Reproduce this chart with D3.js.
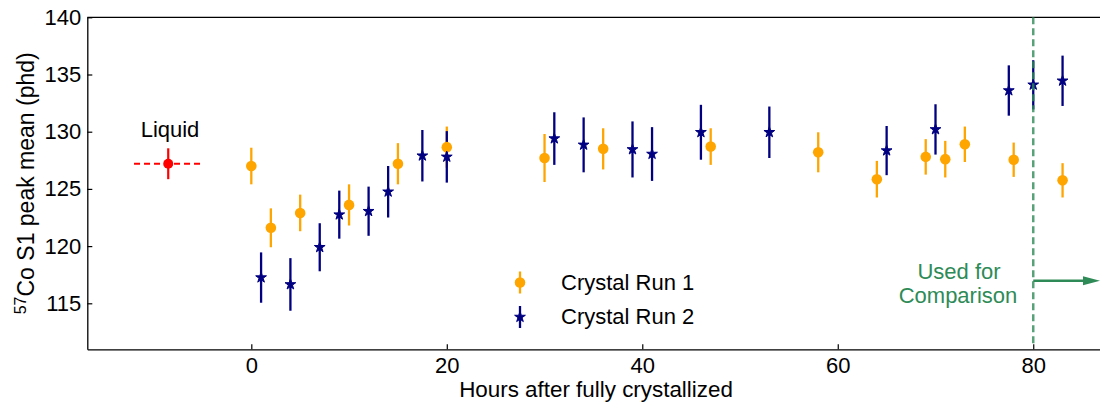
<!DOCTYPE html>
<html><head><meta charset="utf-8">
<script src="https://cdn.jsdelivr.net/npm/d3@7"></script>
<style>
html,body{margin:0;padding:0;background:#fff;}
svg{display:block;font-family:"Liberation Sans",Arial,sans-serif;}
</style></head>
<body><svg id="chart" width="1100" height="403"></svg>
<script>
// ---- data ----
const run1X = [0, 2, 5, 10, 15, 20, 30, 36, 47, 58, 64, 69, 71, 73, 78, 83];
const run1Y = [127.0, 121.6, 122.9, 123.6, 127.2, 128.65, 127.7, 128.5, 128.7, 128.2, 125.85, 127.8, 127.6, 128.9, 127.55, 125.75];
const run1Err = [1.6, 1.7, 1.6, 1.8, 1.8, 1.8, 2.1, 1.8, 1.6, 1.75, 1.6, 1.55, 1.6, 1.55, 1.5, 1.5];

const run2X = [1, 4, 7, 9, 12, 14, 17.5, 20, 31, 34, 39, 41, 46, 53, 65, 70, 77.5, 80, 83];
const run2Y = [117.25, 116.65, 119.9, 122.75, 123.05, 124.75, 127.9, 127.8, 129.4, 128.85, 128.45, 128.05, 129.95, 129.95, 128.35, 130.2, 133.6, 134.1, 134.45];
const run2Err = [2.2, 2.3, 2.1, 2.1, 2.15, 2.25, 2.25, 2.25, 2.3, 2.4, 2.45, 2.35, 2.4, 2.25, 2.15, 2.2, 2.2, 2.15, 2.2];

const liquidX = [-8.5];
const liquidY = [127.2];
const liquidXErr = [3.5];
const liquidYErr = [1.35];

const xTicks = [0, 20, 40, 60, 80];
const yTicks = [115, 120, 125, 130, 135, 140];
const seriesNames = ["Crystal Run 1", "Crystal Run 2"];
const cutoffX = 80;

// ---- layout ----
const svg = d3.select("#chart");
const L = 87.3, R = 1100, T = 17.3, B = 349.3;
const x = d3.scaleLinear().domain([-16.78, 86.83]).range([L, R]);
const y = d3.scaleLinear().domain([110.98, 140]).range([B, T]);
const FS = 22;
const orange = "#FFA500", navy = "#000080", green = "#2E8B57";

// axes
const xAxis = d3.axisBottom(x).tickValues(xTicks).tickSizeInner(-5).tickSizeOuter(0).tickPadding(8);
const gx = svg.append("g").attr("transform", `translate(0,${B})`).call(xAxis);
gx.select(".domain").attr("stroke", "#000").attr("stroke-width", 1.3);
gx.selectAll(".tick line").attr("stroke", "#000").attr("stroke-width", 1.2);
gx.selectAll(".tick text").attr("font-size", FS).attr("fill", "#000").attr("font-family", "Liberation Sans, Arial, sans-serif");

const yAxis = d3.axisLeft(y).tickValues(yTicks).tickSizeInner(-5).tickSizeOuter(0).tickPadding(6);
const gy = svg.append("g").attr("transform", `translate(${L},0)`).call(yAxis);
gy.select(".domain").attr("stroke", "#000").attr("stroke-width", 1.3);
gy.selectAll(".tick line").attr("stroke", "#000").attr("stroke-width", 1.2);
gy.selectAll(".tick text").attr("font-size", FS).attr("fill", "#000").attr("font-family", "Liberation Sans, Arial, sans-serif");

// top spine
svg.append("line").attr("x1", L).attr("x2", R).attr("y1", T).attr("y2", T).attr("stroke", "#000").attr("stroke-width", 1.3);

// axis labels
svg.append("text").attr("x", 596).attr("y", 397).attr("text-anchor", "middle").attr("font-size", 22.4).text("Hours after fully crystallized");
const yl = svg.append("text").attr("transform", `translate(34,${(T + B) / 2}) rotate(-90)`).attr("text-anchor", "middle").attr("font-size", 23);
yl.append("tspan").attr("font-size", 16).attr("dy", -8).text("57");
yl.append("tspan").attr("dy", 8).text("Co S1 peak mean (phd)");

const plot = svg.append("g");
const run1 = run1X.map((v, i) => ({x: v, y: run1Y[i], e: run1Err[i]}));
const run2 = run2X.map((v, i) => ({x: v, y: run2Y[i], e: run2Err[i]}));

// error bars (under markers)
function bars(data, color) {
  plot.append("g").selectAll("line").data(data).join("line")
    .attr("x1", d => x(d.x)).attr("x2", d => x(d.x))
    .attr("y1", d => y(d.y - d.e)).attr("y2", d => y(d.y + d.e))
    .attr("stroke", color).attr("stroke-width", 2.3);
}
bars(run1, orange);
bars(run2, navy);
// liquid error bars
const liq = liquidX.map((v, i) => ({x: v, y: liquidY[i], xe: liquidXErr[i], ye: liquidYErr[i]}));
plot.append("g").selectAll("line").data(liq).join("line")
  .attr("x1", d => x(d.x)).attr("x2", d => x(d.x))
  .attr("y1", d => y(d.y - d.ye)).attr("y2", d => y(d.y + d.ye))
  .attr("stroke", "red").attr("stroke-width", 2.2);
plot.append("g").selectAll("line").data(liq).join("line")
  .attr("x1", d => x(d.x - d.xe)).attr("x2", d => x(d.x + d.xe))
  .attr("y1", d => y(d.y)).attr("y2", d => y(d.y))
  .attr("stroke", "red").attr("stroke-width", 2.2).attr("stroke-dasharray", "6,4");

// markers
plot.append("g").selectAll("circle").data(run1).join("circle")
  .attr("cx", d => x(d.x)).attr("cy", d => y(d.y)).attr("r", 5.3).attr("fill", orange);
const star = d3.symbol().type(d3.symbolStar).size(36);
plot.append("g").selectAll("path").data(run2).join("path")
  .attr("transform", d => `translate(${x(d.x)},${y(d.y)})`).attr("d", star)
  .attr("fill", navy).attr("stroke", navy).attr("stroke-width", 1);
plot.append("g").selectAll("circle").data(liq).join("circle")
  .attr("cx", d => x(d.x)).attr("cy", d => y(d.y)).attr("r", 5).attr("fill", "red");

svg.append("text").attr("x", 170).attr("y", 137).attr("text-anchor", "middle").attr("font-size", FS).text("Liquid");

// cutoff line
svg.append("line").attr("x1", x(cutoffX)).attr("x2", x(cutoffX)).attr("y1", T).attr("y2", B - 6)
  .attr("stroke", green).attr("stroke-width", 2.5).attr("stroke-dasharray", "7,4").attr("opacity", 0.8);
const ay = 280.7;
svg.append("line").attr("x1", x(cutoffX)).attr("x2", R - 14).attr("y1", ay).attr("y2", ay)
  .attr("stroke", green).attr("stroke-width", 2.5);
svg.append("path").attr("d", `M${R - 17},${ay - 4.5} L${R},${ay} L${R - 17},${ay + 4.5} Z`).attr("fill", green);
svg.append("text").attr("x", 959).attr("y", 279).attr("text-anchor", "middle").attr("font-size", FS).attr("fill", green).text("Used for");
svg.append("text").attr("x", 958).attr("y", 303).attr("text-anchor", "middle").attr("font-size", FS).attr("fill", green).text("Comparison");

// legend
const lg = svg.append("g");
const legY = [282.5, 317];
const legColors = [orange, navy];
seriesNames.forEach((name, i) => {
  const cy = legY[i];
  lg.append("line").attr("x1", 520).attr("x2", 520).attr("y1", cy - 11).attr("y2", cy + 11)
    .attr("stroke", legColors[i]).attr("stroke-width", 2.3);
  if (i === 0) lg.append("circle").attr("cx", 520).attr("cy", cy).attr("r", 5.3).attr("fill", orange);
  else lg.append("path").attr("transform", `translate(520,${cy})`).attr("d", star).attr("fill", navy).attr("stroke", navy).attr("stroke-width", 1);
  lg.append("text").attr("x", 561).attr("y", cy + 7).attr("font-size", FS).text(name);
});
</script></body></html>
